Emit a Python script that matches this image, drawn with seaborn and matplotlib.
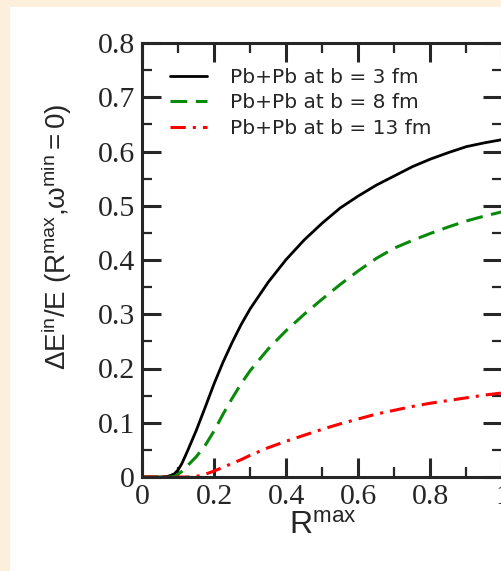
"""Energy-loss fraction vs R^max for Pb+Pb at three impact parameters."""

import matplotlib

matplotlib.use("Agg")

import matplotlib.pyplot as plt  # noqa: E402
import pandas as pd  # noqa: E402
import seaborn as sns  # noqa: E402
from matplotlib.patches import Rectangle  # noqa: E402
from matplotlib.ticker import MultipleLocator  # noqa: E402

R_MAX = [0.0, 0.05, 0.07, 0.08, 0.09, 0.1, 0.11, 0.125, 0.15, 0.175, 0.2,
         0.225, 0.25, 0.275, 0.3, 0.35, 0.4, 0.45, 0.5, 0.55, 0.6, 0.65,
         0.7, 0.75, 0.8, 0.85, 0.9, 0.95, 1.0]
B3 = [0.0, 0.0, 0.001, 0.003, 0.006, 0.013, 0.024, 0.046, 0.085, 0.128, 0.172,
      0.212, 0.248, 0.281, 0.31, 0.359, 0.401, 0.437, 0.468, 0.496, 0.518, 0.538,
      0.555, 0.572, 0.586, 0.598, 0.609, 0.616, 0.622]
B8 = [0.0, 0.0, 0.0, 0.0, 0.001, 0.005, 0.01, 0.02, 0.037, 0.058, 0.085,
      0.116, 0.145, 0.172, 0.196, 0.236, 0.27, 0.3, 0.328, 0.355, 0.38, 0.403,
      0.422, 0.436, 0.449, 0.461, 0.472, 0.481, 0.489]
B13 = [0.0, 0.0, 0.0, 0.0, 0.0, 0.0, 0.0, 0.0, 0.001, 0.005, 0.011,
       0.018, 0.025, 0.032, 0.04, 0.054, 0.066, 0.077, 0.088, 0.098, 0.107, 0.116,
       0.123, 0.13, 0.136, 0.141, 0.146, 0.151, 0.155]
LABELS = ["Pb+Pb at b = 3 fm", "Pb+Pb at b = 8 fm", "Pb+Pb at b = 13 fm"]
COLORS = ["black", "#0a8a0a", "#ff0000"]
STYLES = ["-", (0, (5.5, 2.8)), (0, (5, 2.3, 1, 2.3))]


def main() -> None:
    sns.set_style("ticks")
    plt.rcParams["font.family"] = ["Liberation Sans", "DejaVu Sans"]
    plt.rcParams["mathtext.fontset"] = "custom"
    plt.rcParams["mathtext.rm"] = "Liberation Sans"
    plt.rcParams["mathtext.it"] = "Liberation Sans:italic"

    df = pd.DataFrame({"R": R_MAX * 3, "val": B3 + B8 + B13,
                       "serie": [l for l in LABELS for _ in R_MAX]})

    fig = plt.figure(figsize=(5.02, 5.71), dpi=100, facecolor="#fcf0dd")
    fig.patches.append(Rectangle((10 / 502, 0), 1, 564 / 571, transform=fig.transFigure,
                                 facecolor="white", edgecolor="none", zorder=-10))
    ax = fig.add_axes([142 / 502, 94 / 571, 360.5 / 502, 434 / 571])
    ax.set_facecolor("white")

    for lab, col, ls, lw in zip(LABELS, COLORS, STYLES, [2.0, 2.2, 2.2]):
        sns.lineplot(df[df["serie"] == lab], x="R", y="val", color=col,
                     linestyle=ls, linewidth=lw, label=lab, ax=ax)

    ax.set_xlim(0, 1)
    ax.set_ylim(0, 0.8)
    ax.xaxis.set_major_locator(MultipleLocator(0.2))
    ax.xaxis.set_minor_locator(MultipleLocator(0.1))
    ax.yaxis.set_major_locator(MultipleLocator(0.1))
    ax.yaxis.set_minor_locator(MultipleLocator(0.05))
    ax.set_xticks([0, 0.2, 0.4, 0.6, 0.8, 1.0], ["0", "0.2", "0.4", "0.6", "0.8", "1"])
    ax.set_yticks([0, 0.1, 0.2, 0.3, 0.4, 0.5, 0.6, 0.7, 0.8],
                  ["0", "0.1", "0.2", "0.3", "0.4", "0.5", "0.6", "0.7", "0.8"])
    ax.tick_params(which="both", direction="in", top=True, right=True,
                   labelsize=21.5, labelfontfamily="Liberation Serif", pad=5)
    ax.tick_params(which="major", length=14, width=2.2)
    ax.tick_params(which="minor", length=7, width=1.6)
    for sp in ax.spines.values():
        sp.set_linewidth(2.2)
        sp.set_visible(True)

    ax.set_xlabel(r"$\mathrm{R^{max}}$", fontsize=23, labelpad=1)
    ax.set_ylabel(r"$\mathrm{\Delta E^{in}/E\ (R^{max}{,}\omega^{min}{=}0)}$", fontsize=20)
    ax.yaxis.set_label_coords(-0.19, 0.553)

    ax.legend(loc="upper left", bbox_to_anchor=(0.078, 0.943), frameon=False,
              prop={"family": "DejaVu Sans", "size": 14.5}, handlelength=1.84,
              handletextpad=1.14, labelspacing=0.32, borderpad=0, borderaxespad=0)

    fig.savefig("out.png", dpi=100, facecolor=fig.get_facecolor())


if __name__ == "__main__":
    main()
